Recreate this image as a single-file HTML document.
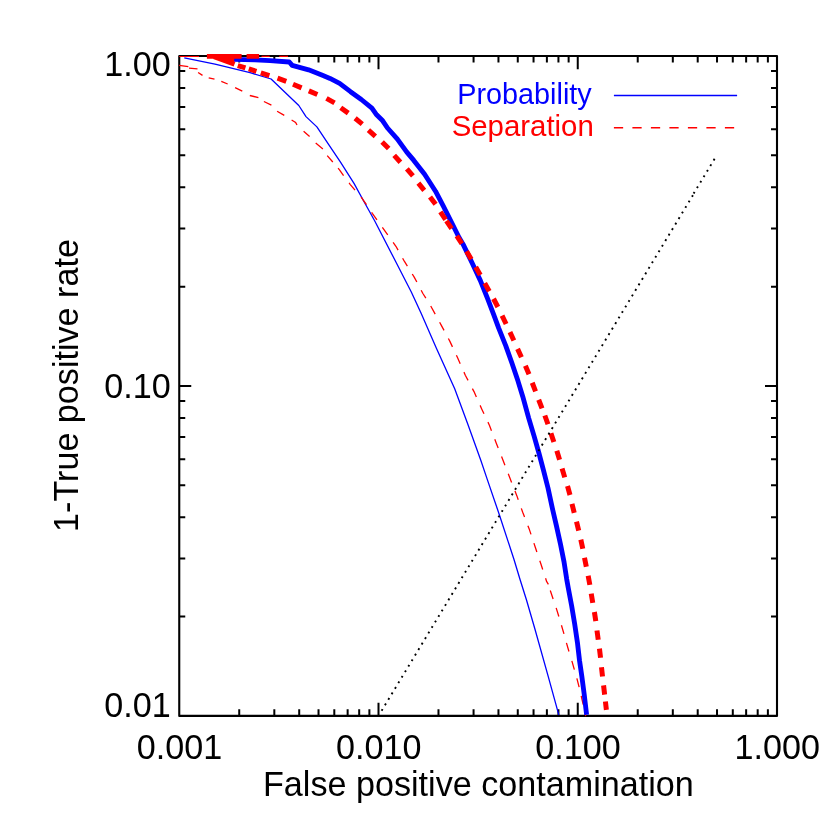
<!DOCTYPE html><html><head><meta charset="utf-8"><style>html,body{margin:0;padding:0;background:#fff;overflow:hidden}svg{display:block;position:absolute;left:0;top:0;will-change:transform}text{font-family:"Liberation Sans",sans-serif;}</style></head><body>
<svg width="830" height="830" viewBox="0 0 830 830">
<rect width="830" height="830" fill="#fff"/>
<g stroke="#000" stroke-width="2.1" fill="none" stroke-linecap="butt">
<path d="M179.25,56.0 L777.0,56.0 L777.0,715.9 L179.25,715.9 Z" stroke-linejoin="round"/>
<path d="M239.23,715.9 v-6.6 M239.23,56.0 v6.6 M274.32,715.9 v-6.6 M274.32,56.0 v6.6 M299.21,715.9 v-6.6 M299.21,56.0 v6.6 M318.52,715.9 v-6.6 M318.52,56.0 v6.6 M334.30,715.9 v-6.6 M334.30,56.0 v6.6 M347.64,715.9 v-6.6 M347.64,56.0 v6.6 M359.19,715.9 v-6.6 M359.19,56.0 v6.6 M369.38,715.9 v-6.6 M369.38,56.0 v6.6 M378.50,715.9 v-13.2 M378.50,56.0 v13.2 M438.48,715.9 v-6.6 M438.48,56.0 v6.6 M473.57,715.9 v-6.6 M473.57,56.0 v6.6 M498.46,715.9 v-6.6 M498.46,56.0 v6.6 M517.77,715.9 v-6.6 M517.77,56.0 v6.6 M533.55,715.9 v-6.6 M533.55,56.0 v6.6 M546.89,715.9 v-6.6 M546.89,56.0 v6.6 M558.44,715.9 v-6.6 M558.44,56.0 v6.6 M568.63,715.9 v-6.6 M568.63,56.0 v6.6 M577.75,715.9 v-13.2 M577.75,56.0 v13.2 M637.73,715.9 v-6.6 M637.73,56.0 v6.6 M672.82,715.9 v-6.6 M672.82,56.0 v6.6 M697.71,715.9 v-6.6 M697.71,56.0 v6.6 M717.02,715.9 v-6.6 M717.02,56.0 v6.6 M732.80,715.9 v-6.6 M732.80,56.0 v6.6 M746.14,715.9 v-6.6 M746.14,56.0 v6.6 M757.69,715.9 v-6.6 M757.69,56.0 v6.6 M767.88,715.9 v-6.6 M767.88,56.0 v6.6 M179.25,616.58 h6 M777.0,616.58 h-6 M179.25,558.47 h6 M777.0,558.47 h-6 M179.25,517.25 h6 M777.0,517.25 h-6 M179.25,485.27 h6 M777.0,485.27 h-6 M179.25,459.15 h6 M777.0,459.15 h-6 M179.25,437.06 h6 M777.0,437.06 h-6 M179.25,417.93 h6 M777.0,417.93 h-6 M179.25,401.05 h6 M777.0,401.05 h-6 M179.25,385.95 h12 M777.0,385.95 h-12 M179.25,286.63 h6 M777.0,286.63 h-6 M179.25,228.52 h6 M777.0,228.52 h-6 M179.25,187.30 h6 M777.0,187.30 h-6 M179.25,155.32 h6 M777.0,155.32 h-6 M179.25,129.20 h6 M777.0,129.20 h-6 M179.25,107.11 h6 M777.0,107.11 h-6 M179.25,87.98 h6 M777.0,87.98 h-6 M179.25,71.10 h6 M777.0,71.10 h-6" stroke-width="2"/>
</g>
<path d="M184.3,57.9 L215,64.2 L250,72.65 L271.1,79 L298.8,105.5 L306,116.6 L316.9,126.9 L328.9,144.8 L340.5,162.2 L354,183.4 L363.1,200 L374.5,220.5 L395.9,262 L411.3,292 L421,313 L436.4,348.2 L454.7,388.7 L468.2,425.3 L473.5,440 L480.7,460 L487,478.6 L499.5,515.2 L514,559.5 L520.2,580 L526.5,600 L534.7,628.2 L548.2,676.4 L558.8,714.9" stroke="#0000ff" stroke-width="1.3" fill="none" stroke-linejoin="round"/>
<path d="M338.1,168.1 L339.5,169.9 L344.3,176.6 L350.1,184.3 L355.9,191.1 L361.7,197.8 L366.5,204.6 L372.3,213.3 L377.1,220 L386.3,232.8 L395.9,246.3 L404.6,261.7 L414.2,277.1 L422.9,293.5 L430.6,305.8 L441.2,325.1 L449.9,341.4 L457.6,357.8 L465.3,375.2 L474,391.6 L481.7,408.9 L489.4,425.3 L496.1,442.7 L503.4,461.2 L510.1,478.6 L516.9,495.9 L522.7,512.3 L529.4,529.6 L535.2,547 L541,564.3 L546.7,581.7 L548.4,584.3" stroke="#ff0000" stroke-width="1.3" fill="none" stroke-dasharray="9.25 9.25" stroke-dashoffset="0" stroke-linejoin="round"/>
<path d="M179.1,65.4 L188.3,66.6 M189,68.1 L197.5,68.9 M198.1,72.5 L202.5,75.4 M208.7,77.8 L214.5,79.2 M221.3,81.4 L227.7,84.0 M235.1,87.6 L242.3,91.2 M249.8,95.5 L258.4,97.6 M263.9,101.5 L271.4,105.1 M277.1,111.2 L284.3,115.4 M303.6,131.3 L309.6,136.5 M315.7,143.1 L322.9,148.9 M327.2,155.6 L332.8,162.0 M291.6,120 L295.6,122.4 L297,125" stroke="#ff0000" stroke-width="1.3" fill="none"/>
<path d="M550.28,590.43 L553.12,598.97 M556.15,607.91 L558.85,616.49 M561.44,625.28 L563.96,633.92 M566.44,642.83 L568.96,651.47 M571.85,660.93 L574.35,669.57 M576.87,678.45 L579.13,687.15 M581.18,695.82 L583.22,704.58 M585.07,713.14 L585.73,716.06" stroke="#ff0000" stroke-width="1.3" fill="none"/>
<path d="M179.2,56.5 H199 M261.5,56.4 H269.7 M279.3,56.4 H288" stroke="#ff0000" stroke-width="1.2" fill="none"/>
<path d="M234.0,59.3 L255.0,59.8 L270.0,60.6 L289.3,62.0 L292.2,65.4 L308.6,69.8 L323.0,75.5 L330.0,78.4 L339.6,83.3 L350.5,91.7 L361.3,99.5 L371.9,108.2 L376.1,114.2 L382.7,120.8 L387.5,128.0 L397.2,138.9 L406.8,152.1 L413.8,160.4 L424.6,174.3 L435.5,191.2 L443.6,206.6 L452.1,223.5 L459.3,238.0 L463.5,245.1 L471.9,262.5 L480.4,280.6 L487.6,298.7 L493.6,314.3 L498.7,328.1 L505.9,346.1 L511.9,363.0 L518.0,381.1 L522.8,396.7 L528.7,418.1 L534.1,436.1 L538.9,453.0 L543.7,471.1 L548.0,488.0 L552.3,508.1 L556.5,526.1 L560.5,544.2 L564.1,562.3 L566.7,579.2 L568.3,588.1 L571.7,606.1 L574.7,624.2 L577.4,642.3 L579.5,660.4 L581.8,676.1 L584.2,694.2 L586.6,714.7" stroke="#0000ff" stroke-width="4.85" fill="none" stroke-linejoin="round"/>
<path d="M206.9,56.35 H241.6 M246.6,56.35 H259.1" stroke="#ff0000" stroke-width="4.9" fill="none"/>
<path d="M214,56.6 L234.5,64.3" stroke="#ff0000" stroke-width="4.9" fill="none"/>
<path d="M220,58 L234.2,58 L234.2,62.6 L226,60 Z" fill="#ff0000"/>
<path d="M237.78,65.52 L245.42,67.88 M248.79,68.88 L256.41,71.32 M260.82,72.80 L269.38,75.60 M277.54,78.09 L286.26,81.31 M293.01,84.31 L301.59,87.89 M308.84,90.84 L317.36,94.56 M326.45,98.32 L334.55,102.88 M340.75,107.66 L348.25,113.14 M355.13,118.22 L362.27,124.18 M368.45,130.18 L375.35,136.42 M382.12,142.01 L388.68,148.59 M394.18,155.36 L400.42,162.24 M406.87,168.77 L412.93,175.83 M418.37,183.09 L424.23,190.31 M430.01,196.88 L435.59,204.32 M440.41,211.84 L445.59,219.56 M446.39,220.85 L451.61,228.55 M456.76,235.80 L461.84,243.60 M466.52,251.31 L471.28,259.29 M475.71,266.96 L480.29,275.04 M484.74,283.13 L489.26,291.27 M493.54,298.78 L497.86,307.02 M502.07,315.67 L506.13,324.03 M509.95,332.08 L513.85,340.52 M517.58,348.87 L521.42,357.33 M525.39,365.72 L529.01,374.28 M532.23,382.76 L535.57,391.44 M538.69,399.75 L542.01,408.45 M544.83,415.52 L547.97,424.28 M550.93,433.19 L553.87,442.01 M556.82,450.76 L559.58,459.64 M562.07,468.44 L564.73,477.36 M567.52,486.02 L569.98,494.98 M571.98,503.79 L574.22,512.81 M576.50,521.58 L578.70,530.62 M580.82,539.65 L582.78,548.75 M584.49,557.74 L586.31,566.86 M588.16,575.73 L589.84,584.87 M591.23,593.71 L592.77,602.89 M594.40,612.00 L595.80,621.20 M596.98,630.49 L598.22,639.71 M599.45,648.58 L600.55,657.82 M601.49,667.28 L602.51,676.52 M603.57,685.38 L604.63,694.62 M605.42,701.53 L606.38,709.87" stroke="#ff0000" stroke-width="5" fill="none"/>
<path d="M381.61,710.75 l311.33,-515.58" stroke="#000" stroke-width="1.9" stroke-dasharray="1.9 4.556000000000001" fill="none"/>
<path d="M693.61,193.61 l20.98,-34.75" stroke="#000" stroke-width="1.9" stroke-dasharray="1.9 4.548600192634396" fill="none"/>
<path d="M613.9,95.4 H737.1" stroke="#0000ff" stroke-width="1.5" fill="none"/>
<path d="M613.9,127.8 H737.1" stroke="#ff0000" stroke-width="1.6" fill="none" stroke-dasharray="9.25 9.25"/>
<text transform="translate(591.70,103.70) scale(1.0,1.04)" font-size="28.8" fill="#0000ff" text-anchor="end">Probability</text>
<text transform="translate(593.80,135.90) scale(1.021,1.05)" font-size="28.8" fill="#ff0000" text-anchor="end">Separation</text>
<text transform="translate(170.80,75.90) scale(1,1.02)" font-size="34.15" fill="#000" text-anchor="end">1.00</text>
<text transform="translate(170.80,397.50) scale(1,1.02)" font-size="34.15" fill="#000" text-anchor="end">0.10</text>
<text transform="translate(170.80,716.50) scale(1,1.02)" font-size="34.15" fill="#000" text-anchor="end">0.01</text>
<text transform="translate(179.55,758.80) scale(1,1.02)" font-size="34.15" fill="#000" text-anchor="middle">0.001</text>
<text transform="translate(378.80,758.80) scale(1,1.02)" font-size="34.15" fill="#000" text-anchor="middle">0.010</text>
<text transform="translate(578.05,758.80) scale(1,1.02)" font-size="34.15" fill="#000" text-anchor="middle">0.100</text>
<text transform="translate(777.30,758.80) scale(1,1.02)" font-size="34.15" fill="#000" text-anchor="middle">1.000</text>
<text transform="translate(478.40,795.70)" font-size="34.15" fill="#000" text-anchor="middle">False positive contamination</text>
<text transform="translate(77.50,385.50) rotate(-90)" font-size="34.15" fill="#000" text-anchor="middle">1-True positive rate</text>
</svg></body></html>
